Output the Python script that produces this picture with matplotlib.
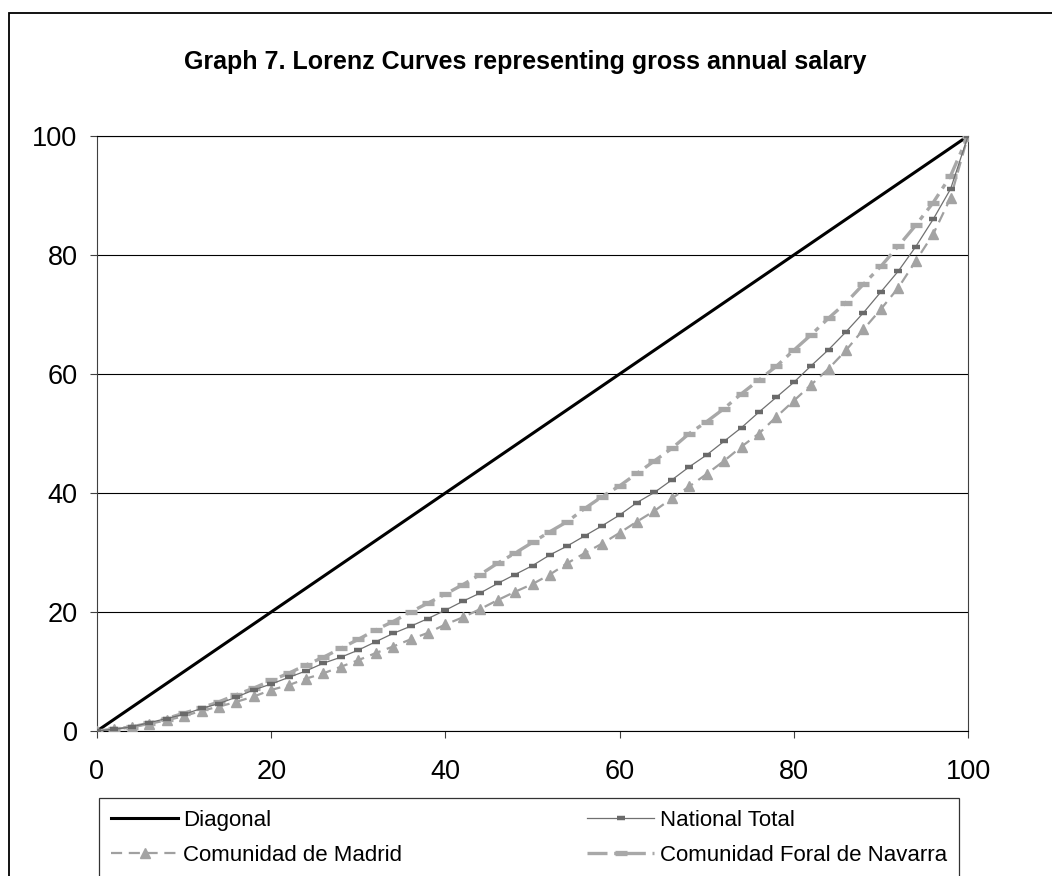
import matplotlib
matplotlib.use("Agg")
import matplotlib.pyplot as plt
from matplotlib.patches import Rectangle

plt.rcParams['font.family'] = ['Liberation Sans', 'DejaVu Sans']

x_pct = [0, 2, 4, 6, 8, 10, 12, 14, 16, 18, 20, 22, 24, 26, 28, 30, 32, 34, 36, 38,
         40, 42, 44, 46, 48, 50, 52, 54, 56, 58, 60, 62, 64, 66, 68, 70, 72, 74, 76, 78,
         80, 82, 84, 86, 88, 90, 92, 94, 96, 98, 100]

diagonal = [0, 2, 4, 6, 8, 10, 12, 14, 16, 18, 20, 22, 24, 26, 28, 30, 32, 34, 36, 38,
            40, 42, 44, 46, 48, 50, 52, 54, 56, 58, 60, 62, 64, 66, 68, 70, 72, 74, 76, 78,
            80, 82, 84, 86, 88, 90, 92, 94, 96, 98, 100]

national = [0, 0.3, 0.7, 1.4, 2.1, 2.8, 3.8, 4.6, 5.7, 6.9, 7.9, 9.0, 10.1, 11.4, 12.4,
            13.6, 15.0, 16.4, 17.6, 18.9, 20.3, 21.8, 23.2, 24.8, 26.3, 27.8, 29.6, 31.1,
            32.8, 34.5, 36.3, 38.4, 40.1, 42.2, 44.4, 46.4, 48.7, 51.0, 53.6, 56.1, 58.6,
            61.4, 64.1, 67.1, 70.3, 73.8, 77.3, 81.4, 86.0, 91.1, 100]

madrid = [0, 0.3, 0.7, 1.2, 1.8, 2.5, 3.4, 4.1, 4.9, 5.8, 6.9, 7.7, 8.8, 9.7, 10.8,
          11.9, 13.1, 14.2, 15.4, 16.5, 17.9, 19.1, 20.5, 22.0, 23.4, 24.7, 26.3, 28.2,
          29.9, 31.5, 33.3, 35.2, 37.0, 39.1, 41.1, 43.2, 45.4, 47.8, 50.0, 52.8, 55.5,
          58.2, 60.9, 64.0, 67.5, 70.9, 74.5, 79.0, 83.5, 89.6, 100]

navarra = [0, 0.3, 0.7, 1.3, 2.1, 3.0, 3.9, 4.9, 6.1, 7.2, 8.5, 9.7, 11.1, 12.4, 13.9,
           15.4, 17.0, 18.4, 20.0, 21.5, 23.0, 24.6, 26.3, 28.2, 29.9, 31.7, 33.5, 35.2,
           37.4, 39.4, 41.2, 43.3, 45.4, 47.5, 50.0, 52.0, 54.2, 56.7, 59.0, 61.3, 64.0,
           66.6, 69.4, 72.0, 75.1, 78.1, 81.5, 85.0, 88.8, 93.3, 100]

labels = ["Diagonal", "National Total", "Comunidad de Madrid", "Comunidad Foral de Navarra"]
title = "Graph 7. Lorenz Curves representing gross annual salary"
ticks = [0, 20, 40, 60, 80, 100]

W, H = 1052, 876
fig = plt.figure(figsize=(W / 100, H / 100), dpi=100)
ax = fig.add_axes([97 / W, 1 - 731 / H, (968 - 97) / W, (731 - 136) / H])

ax.set_xlim(0, 100)
ax.set_ylim(0, 100)
ax.set_xticks(ticks)
ax.set_yticks(ticks)
ax.grid(axis='y', color='black', lw=0.8)
ax.set_axisbelow(True)
for s in ax.spines.values():
    s.set_color('#404040')
    s.set_linewidth(0.8)
ax.spines['bottom'].set_color('black')
ax.spines['top'].set_color('black')
ax.tick_params(axis='both', direction='out', length=5, width=0.8, color='#404040',
               labelsize=19.5)
ax.tick_params(axis='x', pad=15)
ax.tick_params(axis='y', pad=9)

ax.plot(x_pct, diagonal, color='black', lw=2.2, label=labels[0], zorder=3)
ax.plot(x_pct, national, color='#707070', lw=0.9, marker='_', ms=6, mew=3.2,
        mec='#6a6a6a', label=labels[1], zorder=4)
ax.plot(x_pct, madrid, color='#a0a0a0', lw=1.6, ls=(0, (5, 3)), marker='^', ms=7.5,
        mfc='#a3a3a3', mec='#a3a3a3', label=labels[2], zorder=3)
ax.plot(x_pct, navarra, color='#a8a8a8', lw=2.4, ls=(0, (6, 2, 1.5, 2)), marker='_',
        ms=8, mew=3.8, mec='#a8a8a8', label=labels[3], zorder=3)

handles, labs = ax.get_legend_handles_labels()
order = [0, 2, 1, 3]
leg = fig.legend([handles[i] for i in order], [labs[i] for i in order],
                 loc='upper left',
                 bbox_to_anchor=(99 / W, 1 - 874 / H, (959 - 99) / W, (874 - 798) / H),
                 mode='expand', ncol=2, fontsize=16, frameon=True, fancybox=False,
                 edgecolor='black', handlelength=3.0, handletextpad=0.25, numpoints=1,
                 borderaxespad=0, borderpad=0.55, labelspacing=0.62, columnspacing=1.0)
leg.get_frame().set_linewidth(0.9)

fig.text(525 / W, 1 - 62 / H, title, ha='center', va='center', fontsize=18,
         fontweight='bold')

fig.patches.append(Rectangle((9 / W, -0.1), 1.2, 1.1 - 13 / H, transform=fig.transFigure,
                             fill=False, edgecolor='black', lw=1.3, clip_on=False))

fig.savefig('out.png', dpi=100)
